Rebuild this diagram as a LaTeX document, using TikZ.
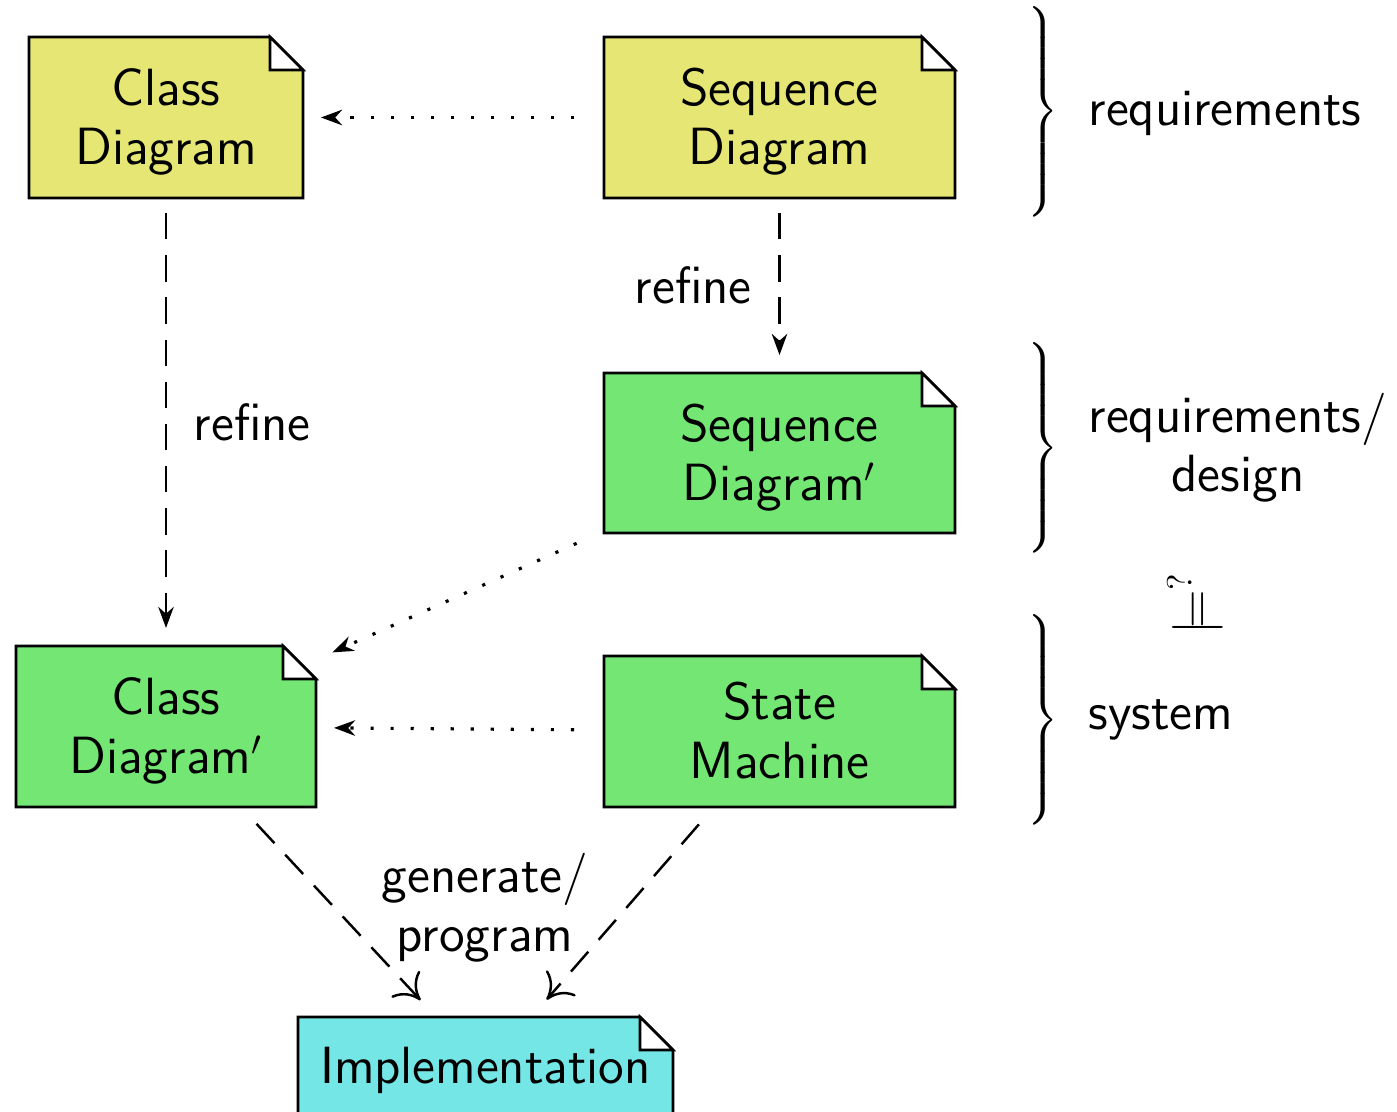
\documentclass[tikz,border=0pt]{standalone}
\usepackage{graphicx}
\usetikzlibrary{calc,backgrounds,arrows.meta}
\definecolor{ylw}{RGB}{230,230,116}
\definecolor{grn}{RGB}{116,230,116}
\definecolor{cyn}{RGB}{116,230,230}

\begin{document}
\begin{tikzpicture}[
  font=\fontsize{14.9}{16.9}\selectfont\sffamily,
  docnode/.style={inner sep=0pt, outer sep=0pt, align=center},
  twoline/.style={docnode, text height=29.9pt, text depth=2.9pt},
  outline/.style={line width=0.75pt, line join=miter},
  lbl/.style={inner sep=0pt},
  brace/.style={inner sep=0pt, font=\normalsize},
  dots/.style={line width=0.9pt, dash pattern=on 0.9pt off 4.8pt,
    -{Stealth[length=6pt,width=4.4pt]}, shorten <=0.3cm, shorten >=0.18cm},
  refine/.style={line width=0.7pt, dash pattern=on 7.5pt off 4.5pt,
    -{Stealth[length=6pt,width=4.4pt]}, shorten <=0.15cm, shorten >=0.18cm},
  gen/.style={line width=0.7pt, dash pattern=on 7.5pt off 4.5pt,
    -{To[length=6.5pt,width=11pt]}, shorten <=0.23cm, shorten >=0.23cm}
]
  \useasboundingbox (0,0) rectangle (13.97,-11.12);
  % Dokumente: oben Anforderungen, Mitte Entwurf, unten System
  \node[twoline, minimum width=2.74cm, minimum height=1.61cm] (cd) at (1.66,-1.175) {Class\\Diagram};
  \node[twoline, minimum width=3.51cm, minimum height=1.61cm] (sd) at (7.795,-1.175) {Sequence\\Diagram};
  \node[twoline, minimum width=3.51cm, minimum height=1.60cm] (sdp) at (7.795,-4.53) {Sequence\\Diagram$'$};
  \node[twoline, minimum width=3.00cm, minimum height=1.61cm] (cdp) at (1.66,-7.265) {Class\\Diagram$'$};
  \node[twoline, minimum width=3.51cm, minimum height=1.51cm] (sm) at (7.795,-7.315) {State\\Machine};
  \node[docnode, minimum width=3.75cm, minimum height=1.06cm] (impl) at (4.855,-10.70) {Implementation};
  % Umriss mit Eselsohr
  \begin{scope}[on background layer]
    \foreach \n/\c in {cd/ylw, sd/ylw, sdp/grn, cdp/grn, sm/grn, impl/cyn} {
      \filldraw[outline, fill=\c] (\n.south west) -- (\n.north west) -- ($(\n.north east)+(-0.33,0)$)
        -- ($(\n.north east)+(0,-0.33)$) -- (\n.south east) -- cycle;
      \filldraw[outline, fill=white] ($(\n.north east)+(-0.33,0)$) -- ++(0,-0.33) -- ++(0.33,0) -- cycle;
    }
  \end{scope}
  % Pfeile
  \draw[dots] (sd) -- (cd);
  \draw[dots] (sdp) -- (cdp);
  \draw[dots] (sm) -- (cdp);
  \draw[refine] (cd) -- node[midway, right=0.15cm] {refine} (cdp);
  \draw[refine] (sd) -- node[midway, left=0.15cm] {refine} (sdp);
  \draw[gen] (cdp) -- (impl);
  \draw[gen] (sm) -- (impl);
  \node[align=center] (gp) at (4.85,-9.08) {generate/\\program};
  % Klammern rechts
  \node[brace] (b1) at (10.41,-1.115) {\delimiterfactor=1000 \delimitershortfall=0pt $\left.\vcenter{\hrule height 1.95cm width 0pt}\right\}$};
  \node[brace] (b2) at (10.41,-4.48) {\delimiterfactor=1000 \delimitershortfall=0pt $\left.\vcenter{\hrule height 1.95cm width 0pt}\right\}$};
  \node[brace] (b3) at (10.41,-7.20) {\delimiterfactor=1000 \delimitershortfall=0pt $\left.\vcenter{\hrule height 1.95cm width 0pt}\right\}$};
  \node[lbl, anchor=west] (req) at (10.88,-1.13) {requirements};
  \node[lbl, align=center] (reqd) at (12.38,-4.48) {requirements/\\design};
  \node[lbl, anchor=west] (sys) at (10.88,-7.20) {system};
  \node (eq) at (11.95,-6.03) {\rotatebox{90}{$\models^?$}};
\end{tikzpicture}
\end{document}
